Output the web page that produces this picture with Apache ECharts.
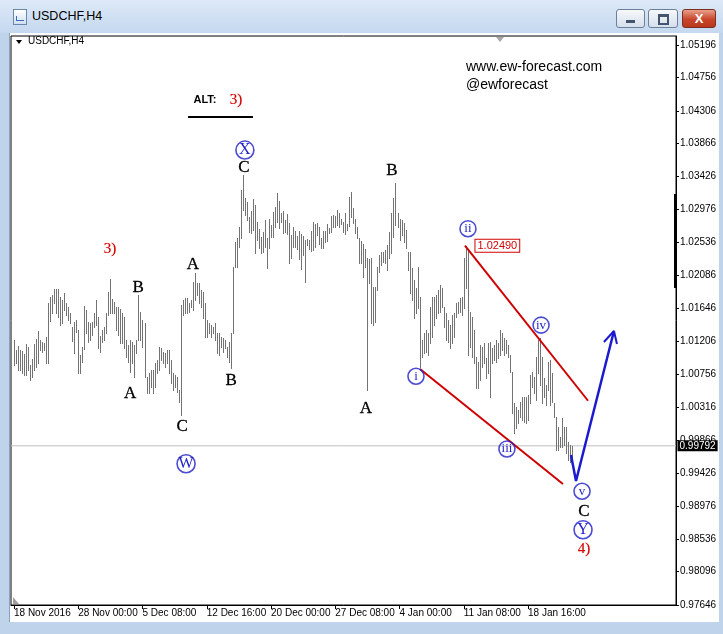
<!DOCTYPE html>
<html><head><meta charset="utf-8">
<script src="https://cdn.jsdelivr.net/npm/echarts@6/dist/echarts.min.js"></script>
<style>
html,body{margin:0;padding:0;background:#fff}
#win{position:relative;width:723px;height:634px;background:#bfd3ea;overflow:hidden;font-family:'Liberation Sans',Arial,sans-serif}
#tb{position:absolute;left:0;top:0;width:723px;height:33px;background:linear-gradient(#dde9f7,#c5d8ef)}
#icon{position:absolute;left:13px;top:9px;width:12px;height:14px;border:1px solid #6b87ad;background:linear-gradient(#ffffff,#cfe0f3)}
#icon:after{content:'';position:absolute;left:2px;top:6px;width:7px;height:4px;border-left:1px solid #3b6db2;border-bottom:1px solid #3b6db2}
#ttl{position:absolute;left:32px;top:8px;font-size:12.5px;line-height:17px;color:#000}
.btn{position:absolute;top:9px;height:17px;border:1px solid #6d7f99;border-radius:3px;background:linear-gradient(#f6f8fb,#d5dfec)}
#bmin{left:616px;width:27px}
#bmin:after{content:'';position:absolute;left:9px;top:10px;width:9px;height:3px;background:#44546e}
#bmax{left:648px;width:28px}
#bmax:after{content:'';position:absolute;left:9px;top:4px;width:7px;height:6px;border:2px solid #44546e;border-top-width:3px}
#bcls{left:682px;width:32px;border-color:#7d2e1e;background:linear-gradient(#e9a08b,#c8452a 55%,#b9381e)}
#bcls span{position:absolute;left:0;top:0;width:32px;text-align:center;color:#fff;font-weight:bold;font-size:13px;line-height:17px}
#client{position:absolute;left:9px;top:33px;width:709px;height:589px;background:#fff;border-left:1px solid #8aa0bd}
#c{position:absolute;left:0;top:0;width:723px;height:634px}
</style>
</head><body>
<div id="win">
  <div id="tb"><div id="icon"></div><div id="ttl">USDCHF,H4</div>
    <div class="btn" id="bmin"></div><div class="btn" id="bmax"></div><div class="btn" id="bcls"><span>X</span></div>
  </div>
  <div id="client"></div>
  <div id="c"></div>
</div>
<script>
// ---------- data ----------
const symbolName = 'USDCHF,H4';
const xTickIndex = [0, 32, 64, 96, 128, 160, 192, 224, 256];
const xTickLabels = ['18 Nov 2016', '28 Nov 00:00', '5 Dec 08:00', '12 Dec 16:00', '20 Dec 00:00', '27 Dec 08:00', '4 Jan 00:00', '11 Jan 08:00', '18 Jan 16:00'];
const yTickValues = [1.05196, 1.04756, 1.04306, 1.03866, 1.03426, 1.02976, 1.02536, 1.02086, 1.01646, 1.01206, 1.00756, 1.00316, 0.99866, 0.99426, 0.98976, 0.98536, 0.98096, 0.97646];
const lastPrice = 0.99792;

const highs = [
1.0122,1.0108,1.0114,1.0108,1.0107,1.0103,1.0117,1.0112,1.0088,1.0096,
1.0117,1.0123,1.0134,1.0122,1.0119,1.0118,1.0126,1.0172,1.0180,1.0183,
1.0191,1.0191,1.0191,1.0180,1.0176,1.0185,1.0172,1.0166,1.0158,1.0139,
1.0146,1.0149,1.0135,1.0102,1.0112,1.0168,1.0162,1.0146,1.0145,1.0146,
1.0158,1.0176,1.0153,1.0127,1.0135,1.0139,1.0158,1.0187,1.0204,1.0177,
1.0173,1.0166,1.0166,1.0164,1.0158,1.0153,1.0122,1.0115,1.0122,1.0119,
1.0115,1.0122,1.0183,1.0160,1.0149,1.0145,1.0072,1.0077,1.0081,1.0081,
1.0091,1.0095,1.0112,1.0111,1.0106,1.0104,1.0108,1.0108,1.0095,1.0077,
1.0075,1.0072,1.0054,1.0169,1.0176,1.0179,1.0179,1.0172,1.0176,1.0200,
1.0212,1.0199,1.0199,1.0189,1.0187,1.0172,1.0149,1.0145,1.0142,1.0139,
1.0145,1.0131,1.0131,1.0126,1.0125,1.0122,1.0112,1.0119,1.0131,1.0220,
1.0254,1.0259,1.0274,1.0324,1.0344,1.0313,1.0308,1.0288,1.0296,1.0312,
1.0304,1.0281,1.0272,1.0261,1.0268,1.0284,1.0259,1.0285,1.0277,1.0295,
1.0301,1.0320,1.0309,1.0293,1.0296,1.0284,1.0292,1.0280,1.0263,1.0274,
1.0269,1.0262,1.0269,1.0265,1.0262,1.0257,1.0258,1.0257,1.0269,1.0281,
1.0278,1.0280,1.0274,1.0259,1.0269,1.0269,1.0278,1.0273,1.0289,1.0290,
1.0289,1.0297,1.0293,1.0285,1.0281,1.0293,1.0278,1.0315,1.0321,1.0300,
1.0285,1.0274,1.0259,1.0255,1.0251,1.0245,1.0232,1.0231,1.0232,1.0193,
1.0193,1.0220,1.0236,1.0241,1.0241,1.0243,1.0250,1.0268,1.0293,1.0313,
1.0334,1.0293,1.0285,1.0284,1.0280,1.0270,1.0241,1.0241,1.0219,1.0203,
1.0192,1.0220,1.0180,1.0122,1.0131,1.0135,1.0131,1.0166,1.0180,1.0180,
1.0183,1.0189,1.0196,1.0192,1.0166,1.0158,1.0149,1.0142,1.0156,1.0158,
1.0172,1.0173,1.0179,1.0180,1.0232,1.0249,1.0243,1.0160,1.0153,1.0135,
1.0099,1.0092,1.0115,1.0112,1.0118,1.0098,1.0118,1.0119,1.0111,1.0115,
1.0122,1.0118,1.0135,1.0131,1.0125,1.0122,1.0115,1.0102,1.0079,1.0037,
1.0031,1.0027,1.0038,1.0045,1.0045,1.0045,1.0048,1.0075,1.0079,1.0072,
1.0099,1.0122,1.0125,1.0099,1.0071,1.0061,1.0092,1.0095,1.0077,1.0037,
1.0018,1.0005,0.9991,1.0017,1.0005,1.0005,0.9985,0.9980,0.9979
];
const lows = [
1.0088,1.0091,1.0081,1.0081,1.0077,1.0075,1.0075,1.0081,1.0068,1.0072,
1.0081,1.0085,1.0091,1.0108,1.0106,1.0108,1.0091,1.0091,1.0148,1.0158,
1.0172,1.0158,1.0153,1.0142,1.0145,1.0162,1.0156,1.0149,1.0145,1.0121,
1.0104,1.0133,1.0077,1.0077,1.0092,1.0110,1.0131,1.0119,1.0122,1.0129,
1.0139,1.0142,1.0111,1.0106,1.0119,1.0122,1.0131,1.0156,1.0158,1.0158,
1.0158,1.0135,1.0129,1.0118,1.0118,1.0111,1.0099,1.0092,1.0079,1.0091,
1.0072,1.0104,1.0122,1.0122,1.0112,1.0072,1.0050,1.0050,1.0058,1.0050,
1.0058,1.0077,1.0081,1.0095,1.0091,1.0085,1.0091,1.0077,1.0064,1.0054,
1.0058,1.0052,1.0038,1.0021,1.0156,1.0158,1.0158,1.0160,1.0166,1.0162,
1.0176,1.0183,1.0172,1.0166,1.0152,1.0126,1.0126,1.0131,1.0126,1.0131,
1.0122,1.0104,1.0102,1.0112,1.0106,1.0111,1.0099,1.0092,1.0084,1.0131,
1.0220,1.0220,1.0247,1.0259,1.0297,1.0290,1.0284,1.0268,1.0266,1.0270,
1.0239,1.0257,1.0246,1.0239,1.0241,1.0247,1.0219,1.0246,1.0261,1.0261,
1.0274,1.0281,1.0273,1.0281,1.0266,1.0268,1.0265,1.0226,1.0232,1.0247,
1.0247,1.0245,1.0231,1.0218,1.0237,1.0200,1.0250,1.0245,1.0242,1.0243,
1.0247,1.0263,1.0251,1.0246,1.0246,1.0254,1.0255,1.0266,1.0268,1.0274,
1.0274,1.0277,1.0274,1.0278,1.0268,1.0265,1.0270,1.0276,1.0288,1.0280,
1.0266,1.0259,1.0226,1.0226,1.0207,1.0220,1.0054,1.0199,1.0145,1.0142,
1.0146,1.0189,1.0214,1.0223,1.0227,1.0226,1.0216,1.0232,1.0239,1.0261,
1.0277,1.0274,1.0257,1.0263,1.0254,1.0246,1.0216,1.0185,1.0176,1.0152,
1.0158,1.0165,1.0085,1.0099,1.0104,1.0106,1.0102,1.0118,1.0126,1.0142,
1.0152,1.0158,1.0160,1.0166,1.0139,1.0122,1.0119,1.0111,1.0118,1.0126,
1.0153,1.0158,1.0160,1.0156,1.0165,1.0192,1.0102,1.0112,1.0099,1.0091,
1.0057,1.0057,1.0068,1.0085,1.0091,1.0071,1.0077,1.0045,1.0091,1.0095,
1.0092,1.0098,1.0102,1.0108,1.0102,1.0104,1.0099,1.0079,1.0023,0.9997,
1.0003,1.0010,1.0018,1.0014,1.0011,1.0010,1.0014,1.0037,1.0058,1.0050,
1.0041,1.0077,1.0061,1.0037,1.0045,1.0034,1.0054,1.0034,1.0038,1.0018,
0.9974,0.9974,0.9978,0.9978,0.9980,0.9970,0.9960,0.9958,0.9963
];

// wave annotations anchored at [bar index, price]
const letterLabels = [
  ['A', 57.8, 1.0050], ['B', 61.8, 1.0192], ['C', 83.7, 1.0005], ['A', 89.1, 1.0224],
  ['B', 108.1, 1.0067], ['C', 114.5, 1.0355], ['A', 175.3, 1.0030], ['B', 188.2, 1.0351],
  ['C', 283.9, 0.9890]
];
const redLabels = [['3)', 47.8, 1.0245], ['3)', 110.6, 1.04455], ['4)', 283.9, 0.9840]];
const altLabel = ['ALT:', 95.1, 1.04455];
const altUnderline = [[86.7, 1.04226], [119.0, 1.04226]];
const circledSmall = [['i', 200.2, 1.0073], ['ii', 226.1, 1.0272], ['iii', 245.5, 0.9975], ['iv', 262.5, 1.0142], ['v', 282.9, 0.9918]];
const circledBig = [['W', 85.7, 0.9955], ['X', 115.0, 1.0378], ['Y', 283.4, 0.9866]];
const upperChannel = [[224.6, 1.0249], [285.9, 1.0040]];
const lowerChannel = [[202.2, 1.00828], [273.4, 0.99278]];
const projection = [[277.4, 0.99669], [279.9, 0.99318], [298.8, 1.0134]];
const projectionHead = [[293.8, 1.01192], [298.8, 1.0134], [300.3, 1.01165]];
const priceTag = ['1.02490', 224.6, 1.0249];

// ---------- chart ----------
const chart = echarts.init(document.getElementById('c'), null, {renderer: 'canvas'});
const SERIF = "'Liberation Serif','Times New Roman',serif";
const SANS = "'Liberation Sans',Arial,sans-serif";
const BLUE = '#1f1fc8', RED = '#d40000';
const X_MIN = -1.49, X_MAX = 329.7;

const barData = highs.map((h, i) => [i, h, lows[i]]);

function textSeries(list, style) {
  return {
    type: 'scatter', silent: true, z: 6, symbolSize: 1,
    itemStyle: {color: 'rgba(0,0,0,0)'},
    emphasis: {disabled: true},
    data: list.map(d => ({name: d[0], value: [d[1], d[2]]})),
    label: Object.assign({show: true, position: 'inside', formatter: p => p.name, opacity: 1}, style)
  };
}
function circleSeries(list, size, fs) {
  return {
    type: 'scatter', silent: true, z: 6, symbol: 'circle', symbolSize: size,
    emphasis: {disabled: true},
    itemStyle: {color: 'rgba(255,255,255,0)', borderColor: BLUE, borderWidth: 1.6},
    data: list.map(d => ({name: d[0], value: [d[1], d[2]]})),
    label: {show: true, position: 'inside', formatter: p => p.name, color: BLUE, fontFamily: SERIF, fontSize: fs,
            textBorderWidth: 0, opacity: 1}
  };
}
function lineSeries(pts, color, width, z) {
  return {type: 'line', silent: true, z: z || 5, data: pts, showSymbol: false, symbol: 'none', animation: false,
          lineStyle: {color: color, width: width}};
}

chart.setOption({
  animation: false,
  grid: {left: 11, right: 47, top: 36, bottom: 29, show: true, borderColor: '#000', borderWidth: 1, backgroundColor: '#fff'},
  xAxis: {
    type: 'value', min: X_MIN, max: X_MAX,
    axisLine: {show: true, onZero: false, lineStyle: {color: '#000', width: 1}},
    splitLine: {show: false},
    axisTick: {show: true, customValues: xTickIndex, length: 4, lineStyle: {color: '#000'}},
    axisLabel: {customValues: xTickIndex, formatter: v => xTickLabels[xTickIndex.indexOf(Math.round(v))] || '',
                align: 'left', fontSize: 10, color: '#000', margin: 3, fontFamily: SANS}
  },
  yAxis: {
    type: 'value', position: 'right', min: 0.97646, max: 1.05318, scale: true,
    axisLine: {show: true, onZero: false, lineStyle: {color: '#000', width: 1}},
    splitLine: {show: false},
    axisTick: {show: true, customValues: yTickValues, length: 3, lineStyle: {color: '#000'}},
    axisLabel: {customValues: yTickValues, formatter: v => v.toFixed(5), fontSize: 10, color: '#000', margin: 4, fontFamily: SANS}
  },
  series: [
    lineSeries([[X_MIN, lastPrice], [X_MAX, lastPrice]], '#c0c0c0', 1, 2),
    {
      type: 'custom', z: 3, clip: true, silent: true,
      data: barData,
      encode: {x: 0, y: [1, 2]},
      renderItem: (params, api) => {
        const a = api.coord([api.value(0), api.value(1)]);
        const b = api.coord([api.value(0), api.value(2)]);
        const px = Math.round(a[0]) + 0.5;
        return {type: 'line', shape: {x1: px, y1: Math.round(a[1]), x2: px, y2: Math.round(b[1]) + 1},
                style: {stroke: '#737373', lineWidth: 1}};
      }
    },
    lineSeries(upperChannel, '#d00000', 2),
    lineSeries(lowerChannel, '#d00000', 2),
    lineSeries(projection, '#1a1ad0', 2.5),
    lineSeries(projectionHead, '#1a1ad0', 2),
    lineSeries(altUnderline, '#000', 2),
    textSeries(letterLabels, {color: '#000', fontFamily: SERIF, fontSize: 17, textBorderColor: '#000', textBorderWidth: 0.3}),
    textSeries(redLabels, {color: RED, fontFamily: SERIF, fontSize: 15, textBorderColor: RED, textBorderWidth: 0.2}),
    textSeries([altLabel], {color: '#000', fontFamily: SANS, fontSize: 11, fontWeight: 'bold'}),
    circleSeries(circledSmall, 16, 13),
    circleSeries(circledBig, 18, 16),
    {
      type: 'scatter', silent: true, z: 7, symbolSize: 1, itemStyle: {color: 'rgba(0,0,0,0)'}, emphasis: {disabled: true},
      data: [{name: priceTag[0], value: [priceTag[1], priceTag[2]]}],
      label: {show: true, position: 'right', distance: 10, formatter: p => p.name, color: RED, fontSize: 11, fontFamily: SANS,
              backgroundColor: '#fff', borderColor: RED, borderWidth: 1, padding: [1, 2, 0, 2], opacity: 1}
    },
    {
      type: 'scatter', silent: true, z: 20, clip: false, symbolSize: 1, itemStyle: {color: 'rgba(0,0,0,0)'}, emphasis: {disabled: true},
      data: [{name: lastPrice.toFixed(5), value: [X_MAX, lastPrice]}],
      label: {show: true, position: 'right', distance: 1, formatter: p => p.name, color: '#ffffff', backgroundColor: '#000000',
              textBorderWidth: 0, opacity: 1, fontSize: 10, fontFamily: SANS, padding: [1, 2, 0, 2]}
    }
  ],
  graphic: [
    {type: 'polygon', z: 100, shape: {points: [[16, 40], [22, 40], [19, 44]]}, style: {fill: '#000'}},
    {type: 'text', z: 100, left: 28, top: 36, style: {text: symbolName, font: '10px ' + SANS, fill: '#000'}},
    {type: 'polygon', z: 100, shape: {points: [[496, 37], [504, 37], [500, 42]]}, style: {fill: '#a8a8a8'}},
    {type: 'polygon', z: 100, shape: {points: [[13, 597], [13, 604], [19, 604]]}, style: {fill: '#a0a0a0'}},
    {type: 'rect', z: 100, shape: {x: 674, y: 194, width: 3, height: 94}, style: {fill: '#000'}},
    {type: 'text', z: 100, left: 466, top: 60, style: {text: 'www.ew-forecast.com', font: '14px ' + SANS, fill: '#000'}},
    {type: 'text', z: 100, left: 466, top: 78, style: {text: '@ewforecast', font: '14px ' + SANS, fill: '#000'}}
  ]
});
</script>
</body></html>
